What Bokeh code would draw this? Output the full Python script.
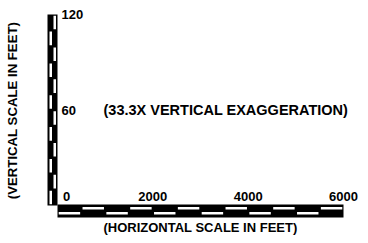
import numpy as np
from bokeh.plotting import figure
from bokeh.models import Range1d, ColumnDataSource
from bokeh.core.properties import value
from bokeh.embed import file_html
from bokeh.resources import INLINE

# ---------------- data ----------------
h_ticks_ft = [0, 2000, 4000, 6000]
h_tick_labels = ["0", "2000", "4000", "6000"]
h_seg_edges_ft = [0, 500, 1000, 1500, 2000, 2500, 3000, 3500, 4000, 4500, 5000, 5500, 6000]

v_ticks_ft = [60, 120]
v_tick_labels = ["60", "120"]
v_seg_edges_ft = [0, 10, 20, 30, 40, 50, 60, 70, 80, 90, 100, 110, 120]

exaggeration_text = "(33.3X VERTICAL EXAGGERATION)"
h_title = "(HORIZONTAL SCALE IN FEET)"
v_title = "(VERTICAL SCALE IN FEET)"

# ---------------- layout (pixels inside the figure, origin bottom-left) ----------------
W, H = 360, 235
def fx(wx):  # picture x -> figure x
    return wx
def fy(wy):  # picture y -> figure y (upwards)
    return H - wy

FONT = value("Liberation Sans")

# horizontal bar pixel geometry
hb_x0, hb_x1 = fx(57), fx(343)
hb_top, hb_bot = fy(204), fy(217)
h_up_stripe = (fy(206.5), fy(209))
h_lo_stripe = (fy(211.5), fy(214))
# vertical bar pixel geometry
vb_y0, vb_y1 = fy(205), fy(14)
vb_left, vb_right = fx(47), fx(57)
v_left_stripe = (fx(49), fx(51.5))
v_right_stripe = (fx(53), fx(55.5))

h_scale = (hb_x1 - hb_x0) / (h_seg_edges_ft[-1] - h_seg_edges_ft[0])
v_scale = (vb_y1 - vb_y0) / (v_seg_edges_ft[-1] - v_seg_edges_ft[0])

p = figure(width=W, height=H, output_backend="svg", toolbar_location=None,
           x_range=Range1d(0, W), y_range=Range1d(0, H),
           x_axis_location=None, y_axis_location=None, min_border=0,
           outline_line_color=None, background_fill_color="white",
           border_fill_color="white")
p.grid.visible = False
p.extra_x_ranges = {"hft": Range1d(h_seg_edges_ft[0] - hb_x0 / h_scale,
                                   h_seg_edges_ft[-1] + (W - hb_x1) / h_scale)}
p.extra_y_ranges = {"vft": Range1d(v_seg_edges_ft[0] - vb_y0 / v_scale,
                                   v_seg_edges_ft[-1] + (H - vb_y1) / v_scale)}

# ---- horizontal bar ----
p.quad(left=[h_seg_edges_ft[0]], right=[h_seg_edges_ft[-1]], top=[hb_top], bottom=[hb_bot],
       x_range_name="hft", fill_color="black", line_color=None)
pad_h = 1.2 / h_scale
hl, hr, ht, hbm = [], [], [], []
for i in range(len(h_seg_edges_ft) - 1):
    hl.append(h_seg_edges_ft[i] + pad_h)
    hr.append(h_seg_edges_ft[i + 1] - pad_h)
    s = h_lo_stripe if i % 2 == 0 else h_up_stripe
    ht.append(s[0]); hbm.append(s[1])
p.quad(left=hl, right=hr, top=ht, bottom=hbm, x_range_name="hft",
       fill_color="white", line_color=None)

# ---- vertical bar ----
p.quad(left=[vb_left], right=[vb_right], bottom=[v_seg_edges_ft[0]], top=[v_seg_edges_ft[-1]],
       y_range_name="vft", fill_color="black", line_color=None)
pad_v = 1.2 / v_scale
vl, vr, vt, vbm = [], [], [], []
for i in range(len(v_seg_edges_ft) - 1):
    vbm.append(v_seg_edges_ft[i] + pad_v)
    vt.append(v_seg_edges_ft[i + 1] - pad_v)
    s = v_left_stripe if i % 2 == 0 else v_right_stripe
    vl.append(s[0]); vr.append(s[1])
p.quad(left=vl, right=vr, top=vt, bottom=vbm, y_range_name="vft",
       fill_color="white", line_color=None)

# ---- tick labels ----
h_offsets = [9 if t == h_ticks_ft[0] else 0 for t in h_ticks_ft]
src_h = ColumnDataSource(dict(x=h_ticks_ft, y=[fy(196)] * len(h_ticks_ft),
                              t=h_tick_labels, xo=h_offsets))
p.text(x="x", y="y", text="t", x_offset="xo", source=src_h, x_range_name="hft",
       text_font=FONT, text_font_style="bold", text_font_size="13px",
       text_align="center", text_baseline="middle", text_color="black")

src_v = ColumnDataSource(dict(x=[fx(61)] * len(v_ticks_ft), y=v_ticks_ft, t=v_tick_labels))
p.text(x="x", y="y", text="t", source=src_v, y_range_name="vft",
       text_font=FONT, text_font_style="bold", text_font_size="13px",
       text_align="left", text_baseline="middle", text_color="black")

# ---- titles ----
p.text(x=[fx(103)], y=[fy(109)], text=[exaggeration_text],
       text_font=FONT, text_font_style="bold", text_font_size="14.5px",
       text_align="left", text_baseline="middle", text_color="black")
p.text(x=[fx(200)], y=[fy(227)], text=[h_title],
       text_font=FONT, text_font_style="bold", text_font_size="13px",
       text_align="center", text_baseline="middle", text_color="black")
p.text(x=[fx(12)], y=[fy(110)], text=[v_title], angle=np.pi / 2,
       text_font=FONT, text_font_style="bold", text_font_size="13.2px",
       text_align="center", text_baseline="middle", text_color="black")

open("out.html", "w").write(file_html(p, INLINE))
